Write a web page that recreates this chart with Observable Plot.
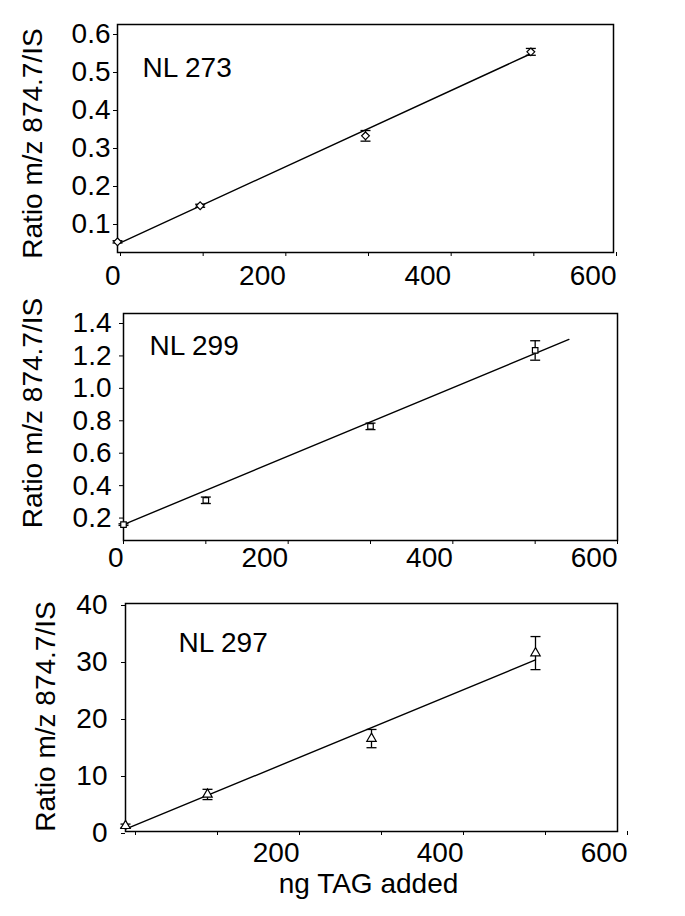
<!DOCTYPE html>
<html><head><meta charset="utf-8">
<script src="https://cdn.jsdelivr.net/npm/d3@7"></script>
<script src="https://cdn.jsdelivr.net/npm/@observablehq/plot@0.6"></script>
<style>
body{margin:0;background:#fff;}
#c{width:685px;}
#c svg{display:block;}
</style>
</head><body><div id="c"></div>
<script>
// ---- data ----
const xTicks = [0, 100, 200, 300, 400, 500, 600];
const xAdded = [0, 100, 300, 500];          // ng TAG added

const nl273Ratio = [0.028, 0.123, 0.307, 0.528];
const nl273Err   = [0.003, 0.004, 0.014, 0.009];
const nl273FitX  = [0, 500];
const nl273FitY  = [0.022, 0.523];
const nl273YTicks = [0.1, 0.2, 0.3, 0.4, 0.5, 0.6];

const nl299Ratio = [0.098, 0.248, 0.704, 1.172];
const nl299Err   = [0.005, 0.02, 0.02, 0.06];
const nl299FitX  = [0, 541];
const nl299FitY  = [0.098, 1.24];
const nl299YTicks = [0.2, 0.4, 0.6, 0.8, 1.0, 1.2, 1.4];

const nl297Ratio = [1.0, 6.5, 16.3, 31.3];
const nl297Err   = [0.3, 0.9, 1.6, 2.9];
const nl297FitX  = [0, 500];
const nl297FitY  = [0.4, 30.1];
const nl297YTicks = [0, 10, 20, 30, 40];

const yTitle = "Ratio m/z 874.7/IS";
const xTitle = "ng TAG added";

// ---- helpers ----
const capSymbol = {draw(ctx, size) { const w = Math.sqrt(size / Math.PI); ctx.moveTo(-w, 0); ctx.lineTo(w, 0); }};

function panel(o) {
  const pts = xAdded.map((x, i) => ({x, y: o.ys[i], lo: o.ys[i] - o.errs[i], hi: o.ys[i] + o.errs[i]}));
  const fit = o.fitX.map((x, i) => ({x, y: o.fitY[i]}));
  const marks = [
    Plot.axisY(o.yTicks, {tickSize: 4, tickPadding: o.yPad, dy: o.yDy, tickFormat: o.yFmt, label: null, stroke: "black", fill: "black"}),
    Plot.axisX(xTicks, {tickSize: 4, tickPadding: o.xPad, textAnchor: "end", dx: o.xDx,
      tickFormat: d => (d % 200 === 0 && (o.showX0 || d !== 0)) ? d : "", label: null, stroke: "black", fill: "black"}),
    Plot.frame({stroke: "black", strokeWidth: 1.5}),
    Plot.line(fit, {x: "x", y: "y", stroke: "black", strokeWidth: 1.4}),
    Plot.ruleX(pts, {x: "x", y1: "lo", y2: "hi", stroke: "black", strokeWidth: 1.3}),
    Plot.dot(pts, {x: "x", y: "lo", symbol: capSymbol, r: 5, stroke: "black", strokeWidth: 1.3, fill: "none"}),
    Plot.dot(pts, {x: "x", y: "hi", symbol: capSymbol, r: 5, stroke: "black", strokeWidth: 1.3, fill: "none"}),
    Plot.dot(pts, {x: "x", y: "y", symbol: o.symbol, r: o.r, stroke: "black", strokeWidth: 1.2, fill: "white"}),
    Plot.text([o.name], {frameAnchor: "top-left", textAnchor: "start", lineAnchor: "top", dx: o.nameDx, dy: o.nameDy, fill: "black"}),
    Plot.text([yTitle], {frameAnchor: "left", rotate: -90, textAnchor: "middle", lineAnchor: "middle", dx: o.tDx, dy: o.tDy, fill: "black"})
  ];
  if (o.xTitle) marks.push(Plot.text([o.xTitle], {frameAnchor: "bottom", textAnchor: "middle", lineAnchor: "top", dy: 42, dx: -3, fill: "black"}));
  return Plot.plot({
    width: 685, height: o.height,
    marginLeft: o.ml, marginRight: o.mr, marginTop: o.mt, marginBottom: o.mb,
    x: {domain: [0, 600]},
    y: {domain: o.yDomain},
    style: {fontFamily: "'Liberation Sans', Arial, sans-serif", fontSize: "28px", color: "black", background: "white", overflow: "visible"},
    marks
  });
}

const c = document.getElementById("c");
c.append(panel({
  name: "NL 273", ys: nl273Ratio, errs: nl273Err, fitX: nl273FitX, fitY: nl273FitY,
  yDomain: [0, 0.6], yTicks: nl273YTicks, yFmt: d => d.toFixed(1), symbol: "diamond2", r: 3.5,
  height: 290, ml: 117, mr: 72, mt: 24, mb: 38, yPad: 3, yDy: 10, xPad: 9, xDx: 3, showX0: true,
  nameDx: 25, nameDy: 33, tDx: -84, tDy: 5
}));
c.append(panel({
  name: "NL 299", ys: nl299Ratio, errs: nl299Err, fitX: nl299FitX, fitY: nl299FitY,
  yDomain: [0, 1.4], yTicks: nl299YTicks, yFmt: d => d.toFixed(1), symbol: "square2", r: 3.5,
  height: 295, ml: 123, mr: 68, mt: 23, mb: 45, yPad: 8, yDy: 10, xPad: 3, xDx: 0, showX0: true,
  nameDx: 26, nameDy: 22, tDx: -90, tDy: -14
}));
c.append(panel({
  name: "NL 297", ys: nl297Ratio, errs: nl297Err, fitX: nl297FitX, fitY: nl297FitY,
  yDomain: [0, 40], yTicks: nl297YTicks, yFmt: d => d, symbol: "triangle2", r: 4.5,
  height: 331, ml: 125, mr: 68, mt: 18, mb: 85, yPad: 14, yDy: 2, xPad: 7, xDx: 10, showX0: false,
  nameDx: 53, nameDy: 29, tDx: -79, tDy: -1, xTitle: xTitle
}));
</script>
</body></html>
